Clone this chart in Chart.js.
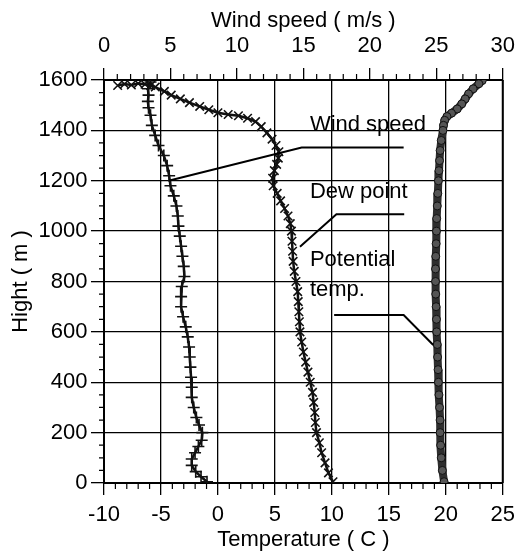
<!DOCTYPE html>
<html>
<head>
<meta charset="utf-8">
<script src="https://cdn.jsdelivr.net/npm/chart.js@4.4.1/dist/chart.umd.min.js"></script>
<style>
  html, body { margin: 0; padding: 0; background: #fff; }
  #wrap { width: 524px; height: 553px; }
</style>
</head>
<body>
<div id="wrap"><canvas id="profile" width="524" height="553"></canvas></div>
<script>
// heights (m) and readings taken off the sounding plot
const windHeights = [1592, 1565, 1540, 1515, 1490, 1460, 1420, 1380, 1340, 1300, 1260, 1220, 1180, 1140, 1100, 1060, 1020, 980, 940, 900, 860, 820, 780, 740, 700, 660, 620, 580, 540, 500, 460, 420, 380, 340, 300, 260, 230, 200, 170, 145, 120, 95, 70, 45, 25, 5];
const windSpeed = [3.5, 3.3, 3.35, 3.3, 3.35, 3.5, 3.6, 3.85, 4.1, 4.5, 4.75, 4.9, 5.0, 5.25, 5.45, 5.55, 5.6, 5.7, 5.8, 5.9, 6.0, 6.05, 5.85, 5.8, 5.8, 5.95, 6.15, 6.3, 6.4, 6.45, 6.5, 6.55, 6.6, 6.6, 6.75, 6.95, 7.15, 7.4, 7.35, 7.1, 6.85, 6.6, 6.6, 6.9, 7.3, 7.75];

const dewHeights = [1578, 1584, 1580, 1586, 1583, 1578, 1572, 1555, 1540, 1525, 1510, 1495, 1482, 1470, 1463, 1458, 1448, 1435, 1415, 1390, 1365, 1340, 1315, 1290, 1265, 1240, 1210, 1180, 1150, 1120, 1090, 1060, 1030, 1000, 960, 920, 880, 840, 800, 760, 720, 680, 640, 600, 560, 520, 480, 440, 400, 360, 320, 280, 240, 200, 160, 120, 80, 40, 5];
const dewPoint = [-8.8, -8.2, -7.6, -7.0, -6.4, -5.9, -5.5, -4.7, -4.1, -3.3, -2.5, -1.6, -0.8, 0.0, 0.9, 1.8, 2.6, 3.3, 3.8, 4.3, 4.75, 5.1, 5.35, 5.3, 5.15, 4.95, 4.8, 4.85, 5.2, 5.5, 5.85, 6.15, 6.35, 6.45, 6.5, 6.55, 6.6, 6.7, 6.85, 7.0, 7.05, 7.1, 7.15, 7.2, 7.35, 7.5, 7.7, 7.9, 8.1, 8.3, 8.4, 8.5, 8.55, 8.65, 8.9, 9.1, 9.4, 9.7, 10.1];

const thetaHeights = [1598, 1585, 1565, 1545, 1525, 1505, 1485, 1468, 1455, 1440, 1420, 1400, 1360, 1320, 1280, 1240, 1200, 1150, 1100, 1050, 1000, 950, 900, 850, 800, 750, 700, 650, 600, 550, 500, 450, 400, 350, 300, 250, 200, 150, 100, 50, 5];
const potentialTemp = [23.2, 22.9, 22.4, 22.0, 21.7, 21.4, 21.0, 20.5, 20.1, 19.9, 19.8, 19.75, 19.6, 19.5, 19.45, 19.4, 19.35, 19.3, 19.25, 19.2, 19.18, 19.15, 19.12, 19.1, 19.1, 19.12, 19.15, 19.18, 19.2, 19.25, 19.28, 19.32, 19.35, 19.4, 19.45, 19.5, 19.5, 19.55, 19.6, 19.7, 19.85];

const tempTicks = { min: -10, max: 25, step: 5 };
const windTicks = { min: 0, max: 30, step: 5 };
const heightTicks = { min: 0, max: 1600, step: 200 };

// callout labels, given in (temperature, height) units
const callouts = [
  { lines: ['Wind speed'], at: [8.07, 1397], path: [[16.3, 1332], [7.35, 1332], [-4.25, 1201]] },
  { lines: ['Dew point'], at: [8.07, 1131], path: [[16.35, 1067], [10.4, 1067], [7.2, 938]] },
  { lines: ['Potential', 'temp.'], at: [8.07, 861], path: [[10.2, 667], [16.3, 667], [18.9, 548]] }
];

const pairs = (xs, hs) => xs.map((v, i) => ({ x: v, y: hs[i] }));
const plain = v => String(v);

Chart.defaults.font.family = '"Liberation Sans", Arial, Helvetica, sans-serif';
Chart.defaults.font.size = 22;
Chart.defaults.color = '#000';

const frameAndMinor = {
  id: 'frameAndMinor',
  afterDraw(chart) {
    const { ctx, chartArea: a } = chart;
    const xs = chart.scales.x, xt = chart.scales.xTop, ys = chart.scales.y;
    ctx.save();
    ctx.strokeStyle = '#000';
    ctx.lineWidth = 1.2;
    ctx.beginPath();
    for (let v = tempTicks.min; v <= tempTicks.max; v++) {
      if (v % tempTicks.step === 0) continue;
      const p = xs.getPixelForValue(v);
      ctx.moveTo(p, a.bottom); ctx.lineTo(p, a.bottom + 6);
    }
    for (let v = windTicks.min; v <= windTicks.max; v++) {
      if (v % windTicks.step === 0) continue;
      const p = xt.getPixelForValue(v);
      ctx.moveTo(p, a.top); ctx.lineTo(p, a.top - 6);
    }
    for (let v = heightTicks.min; v <= heightTicks.max; v += 50) {
      if (v % heightTicks.step === 0) continue;
      const p = ys.getPixelForValue(v);
      ctx.moveTo(a.left, p); ctx.lineTo(a.left - 5, p);
    }
    ctx.stroke();
    ctx.lineWidth = 2;
    ctx.beginPath();
    ctx.moveTo(a.right, a.top); ctx.lineTo(a.right, a.bottom);
    ctx.stroke();

    // callouts
    ctx.lineWidth = 2;
    ctx.fillStyle = '#000';
    ctx.font = '22px "Liberation Sans", Arial, sans-serif';
    ctx.textBaseline = 'alphabetic';
    ctx.textAlign = 'left';
    callouts.forEach(c => {
      ctx.beginPath();
      c.path.forEach(([t, h], i) => {
        const px = xs.getPixelForValue(t), py = ys.getPixelForValue(h);
        if (i === 0) ctx.moveTo(px, py); else ctx.lineTo(px, py);
      });
      ctx.stroke();
      const tx = xs.getPixelForValue(c.at[0]);
      const ty = ys.getPixelForValue(c.at[1]);
      c.lines.forEach((s, i) => ctx.fillText(s, tx, ty + i * 30));
    });
    ctx.restore();
  }
};

new Chart(document.getElementById('profile'), {
  type: 'scatter',
  data: {
    datasets: [
      {
        label: 'Potential temp.',
        data: pairs(potentialTemp, thetaHeights),
        xAxisID: 'x',
        showLine: true,
        borderColor: '#2e2e2e',
        borderWidth: 8,
        pointStyle: 'circle',
        pointRadius: 4,
        pointBackgroundColor: '#555',
        pointBorderColor: '#111',
        pointBorderWidth: 1
      },
      {
        label: 'Dew point',
        data: pairs(dewPoint, dewHeights),
        xAxisID: 'x',
        showLine: true,
        borderColor: '#111',
        borderWidth: 2.5,
        pointStyle: 'crossRot',
        pointRadius: 6,
        pointBorderColor: '#111',
        pointBorderWidth: 1.6
      },
      {
        label: 'Wind speed',
        data: pairs(windSpeed, windHeights),
        xAxisID: 'xTop',
        showLine: true,
        borderColor: '#111',
        borderWidth: 2.5,
        pointStyle: 'cross',
        pointRadius: 6,
        pointBorderColor: '#111',
        pointBorderWidth: 1.6
      }
    ]
  },
  options: {
    responsive: false,
    animation: false,
    devicePixelRatio: 1,
    layout: { padding: { left: 0, right: 15, top: 0, bottom: 0 } },
    plugins: { legend: { display: false }, tooltip: { enabled: false } },
    scales: {
      x: {
        type: 'linear',
        position: 'bottom',
        min: tempTicks.min,
        max: tempTicks.max,
        ticks: { stepSize: tempTicks.step, padding: 7, color: '#000', callback: plain },
        grid: { color: '#000', lineWidth: 1.3, tickLength: 12, tickColor: '#000' },
        border: { color: '#000', width: 2 },
        title: { display: true, text: 'Temperature ( C )', color: '#000', padding: { top: 0, bottom: 0 } },
        afterFit(s) { s.height = 70; }
      },
      xTop: {
        type: 'linear',
        position: 'top',
        min: windTicks.min,
        max: windTicks.max,
        ticks: { stepSize: windTicks.step, padding: 9, color: '#000', callback: plain },
        grid: { drawOnChartArea: false, color: '#000', lineWidth: 1.3, tickLength: 12 },
        border: { color: '#000', width: 2 },
        title: { display: true, text: 'Wind speed ( m/s )', color: '#000', padding: { top: 8, bottom: 0 } },
        afterFit(s) { s.height = 80; }
      },
      y: {
        type: 'linear',
        min: heightTicks.min,
        max: heightTicks.max,
        ticks: { stepSize: heightTicks.step, padding: 3.5, color: '#000', callback: plain },
        grid: { color: '#000', lineWidth: 1.3, tickLength: 13 },
        border: { color: '#000', width: 2 },
        title: { display: true, text: 'Hight ( m )', color: '#000', padding: { top: 8, bottom: 0 } },
        afterFit(s) { s.width = 104; }
      }
    }
  },
  plugins: [frameAndMinor]
});
</script>
</body>
</html>
